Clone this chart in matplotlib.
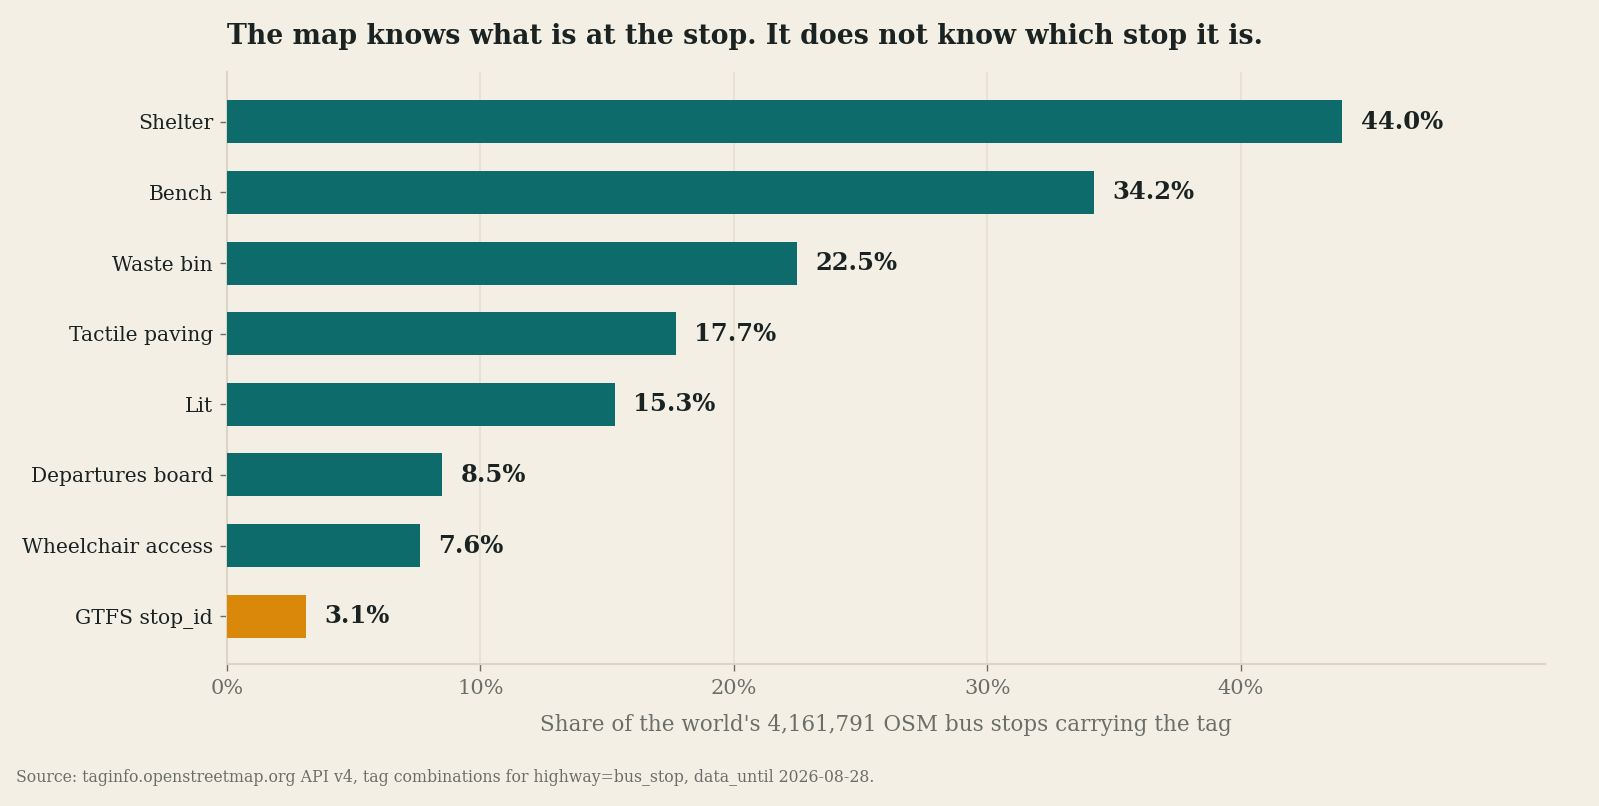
import matplotlib
matplotlib.use("Agg")
import matplotlib.pyplot as plt
from matplotlib.ticker import FuncFormatter

categories = ["Shelter", "Bench", "Waste bin", "Tactile paving", "Lit",
              "Departures board", "Wheelchair access", "GTFS stop_id"]
values = [44.0, 34.2, 22.5, 17.7, 15.3, 8.5, 7.6, 3.1]
highlight = "GTFS stop_id"
xticks = [0, 10, 20, 30, 40]

BG = "#f3efe5"
TEAL = "#0d6b6b"
ORANGE = "#d9880a"
DARK = "#1a2321"
GRAY = "#6b6e68"
GRID = "#e6dfd1"
SPINE = "#dcd4c4"

plt.rcParams["font.family"] = ["DejaVu Serif"]

fig = plt.figure(figsize=(15.99, 8.06), dpi=100, facecolor=BG)
ax = fig.add_axes([0.142, 0.176, 0.824, 0.735], facecolor=BG)

ypos = list(range(len(categories)))
colors = [ORANGE if c == highlight else TEAL for c in categories]
ax.barh(ypos, values, height=0.61, color=colors, zorder=3)
ax.set_yticks(ypos)
ax.set_yticklabels(categories, fontsize=14.6, color=DARK)
ax.set_ylim(len(categories) - 0.32, -0.71)
ax.set_xlim(0, 52)
ax.set_xticks(xticks)
ax.xaxis.set_major_formatter(FuncFormatter(lambda v, p: f"{v:.0f}%"))
ax.tick_params(axis="x", labelsize=15, labelcolor=GRAY, color=GRAY, length=5, width=1, pad=6)
ax.tick_params(axis="y", color=GRAY, length=5, width=1, pad=5)
ax.grid(axis="x", color=GRID, linewidth=1.2, zorder=0)
for s in ["top", "right"]:
    ax.spines[s].set_visible(False)
for s in ["left", "bottom"]:
    ax.spines[s].set_color(SPINE)
    ax.spines[s].set_linewidth(1.5)

for y, v in zip(ypos, values):
    ax.annotate(f"{v:.1f}%", xy=(v, y), xytext=(13.5, 0), textcoords="offset points",
                ha="left", va="center", fontsize=17.5, fontweight="bold", color=DARK)

ax.set_xlabel("Share of the world's 4,161,791 OSM bus stops carrying the tag",
              fontsize=15.5, color=GRAY, labelpad=11)

fig.text(227 / 1599, 1 - 37 / 806, "The map knows what is at the stop. It does not know which stop it is.",
         fontsize=19.3, fontweight="bold", color=DARK, ha="left", va="center")
fig.text(16 / 1599, 1 - 777 / 806,
         "Source: taginfo.openstreetmap.org API v4, tag combinations for highway=bus_stop, data_until 2026-08-28.",
         fontsize=11.3, color=GRAY, ha="left", va="center")

fig.savefig("out.png", dpi=100, facecolor=BG)
